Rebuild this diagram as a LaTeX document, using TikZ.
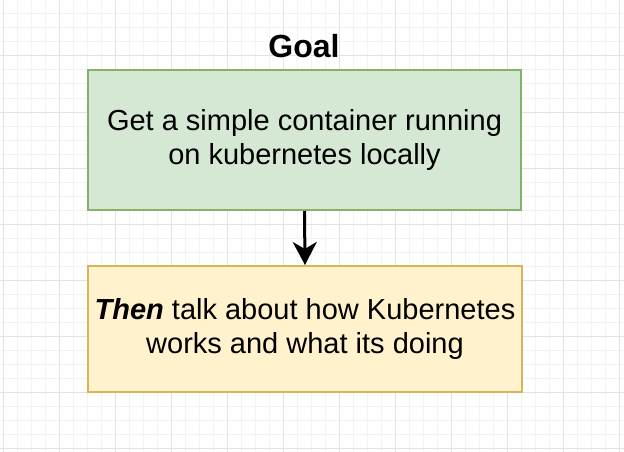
\documentclass[tikz,border=0pt]{standalone}
\usepackage{fontspec}
\setmainfont{Liberation Sans}
\usepackage{tikz}
\usetikzlibrary{arrows.meta}
\definecolor{goalfill}{HTML}{D5E8D4}
\definecolor{goaldraw}{HTML}{82B366}
\definecolor{thenfill}{HTML}{FFF2CC}
\definecolor{thendraw}{HTML}{D6B656}
\definecolor{minorgrid}{HTML}{F3F3F3}
\definecolor{majorgrid}{HTML}{E2E2E2}

\begin{document}
\begin{tikzpicture}
    [x=1pt,y=-1pt,
     box/.style={draw,line width=2pt,align=center,inner sep=0pt,
       font=\fontsize{29}{33.5}\selectfont},
     goalbox/.style={box,fill=goalfill,draw=goaldraw,minimum width=433pt,minimum height=140pt},
     thenbox/.style={box,fill=thenfill,draw=thendraw,minimum width=434pt,minimum height=126pt}]

    \useasboundingbox (0,0) rectangle (624,452);
    \fill[white] (0,0) rectangle (624,452);

    % grid
    \foreach \i in {0,...,44} {
      \draw[minorgrid,line width=1pt] (3+14*\i,0) -- (3+14*\i,452);
    }
    \foreach \j in {0,...,32} {
      \draw[minorgrid,line width=1pt] (0,14*\j) -- (624,14*\j);
    }
    \foreach \i in {0,...,11} {
      \draw[majorgrid,line width=1pt] (3+56*\i,0) -- (3+56*\i,452);
    }
    \foreach \j in {0,...,8} {
      \draw[majorgrid,line width=1pt] (0,56*\j) -- (624,56*\j);
    }

    \node[font=\bfseries\fontsize{32}{36}\selectfont,anchor=base] (title) at (304,58) {Goal};

    \node[goalbox] (goal) at (304.5,140) {Get a simple container running\\on kubernetes locally};
    \node[thenbox] (then) at (305,329) {\textbf{\textit{Then}} talk about how Kubernetes\\works and what its doing};

    \draw[line width=3pt,-{Stealth[length=23pt,width=24pt,inset=7pt]}] (goal.south) -- (then.north);
  \end{tikzpicture}
\end{document}
